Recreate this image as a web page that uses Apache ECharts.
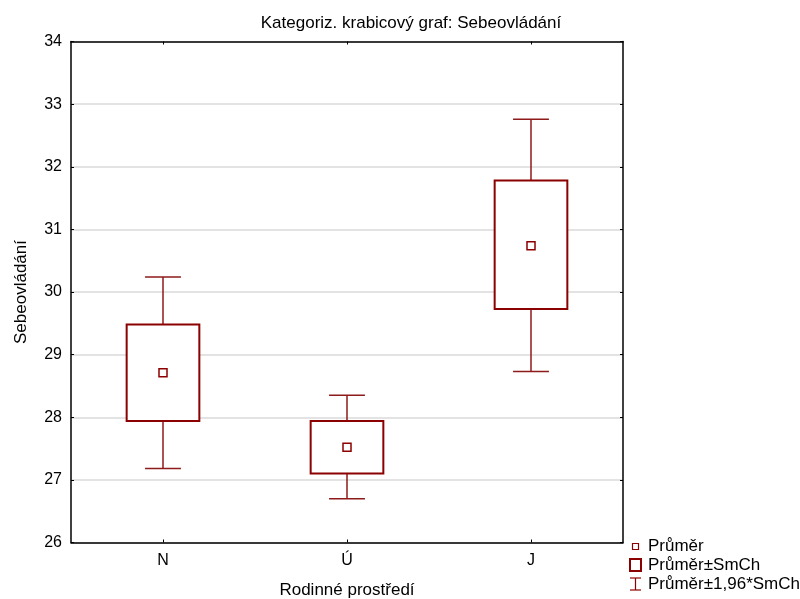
<!DOCTYPE html>
<html>
<head>
<meta charset="utf-8">
<script src="https://cdn.jsdelivr.net/npm/echarts@6/dist/echarts.min.js"></script>
<style>
  html, body { margin: 0; padding: 0; background: #fff; }
  #chart { width: 800px; height: 599px; }
</style>
</head>
<body>
<div id="chart"></div>
<script>
// Categorized box plot: mean, mean ± SE (box), mean ± 1.96*SE (whiskers)
const categories = ['N', 'Ú', 'J'];
const means   = [28.71, 27.52, 30.74];
const seLower = [27.94, 27.10, 29.73];
const seUpper = [29.48, 27.94, 31.78];
const ciLower = [27.18, 26.70, 28.73];
const ciUpper = [30.24, 28.35, 32.76];
const yTicks  = [26, 27, 28, 29, 30, 31, 32, 33, 34];

const legendNames = ['Průměr', 'Průměr±SmCh', 'Průměr±1,96*SmCh'];
const FONT = '"Liberation Sans", Arial, sans-serif';
const RED = '#8b0000';

const rows = categories.map((c, i) => [i, ciLower[i], seLower[i], means[i], seUpper[i], ciUpper[i]]);

function renderBox(params, api) {
  const i = api.value(0);
  const band = api.size([1, 0])[0];
  const boxW = band * 0.395;
  const capW = band * 0.195;
  const pLo = api.coord([i, api.value(1)]);
  const pSeLo = api.coord([i, api.value(2)]);
  const pMean = api.coord([i, api.value(3)]);
  const pSeHi = api.coord([i, api.value(4)]);
  const pHi = api.coord([i, api.value(5)]);
  const x = pMean[0];
  const whisk = { stroke: '#8e1a1a', lineWidth: 1.5 };
  return {
    type: 'group',
    children: [
      { type: 'line', shape: { x1: x, y1: pHi[1], x2: x, y2: pSeHi[1] }, style: whisk },
      { type: 'line', shape: { x1: x, y1: pSeLo[1], x2: x, y2: pLo[1] }, style: whisk },
      { type: 'line', shape: { x1: x - capW / 2, y1: pHi[1], x2: x + capW / 2, y2: pHi[1] }, style: whisk },
      { type: 'line', shape: { x1: x - capW / 2, y1: pLo[1], x2: x + capW / 2, y2: pLo[1] }, style: whisk },
      { type: 'rect', shape: { x: x - boxW / 2, y: pSeHi[1], width: boxW, height: pSeLo[1] - pSeHi[1] },
        style: { fill: '#fff', stroke: RED, lineWidth: 2 } },
      { type: 'rect', shape: { x: x - 4, y: pMean[1] - 4, width: 8, height: 8 },
        style: { fill: '#fff', stroke: RED, lineWidth: 1.5 } }
    ]
  };
}

// Legend drawn as graphic items at the lower right (group origin = icon's left, text middle)
function legendItem(y, icon, text) {
  return { type: 'group', x: 629, y: y, children: [
    icon,
    { type: 'text', x: 19, y: 0, style: { text: text, font: '17px ' + FONT, fill: '#000', textVerticalAlign: 'middle' } }
  ] };
}

const chart = echarts.init(document.getElementById('chart'), null, { renderer: 'canvas' });
const axisLine = { show: true, lineStyle: { color: '#000', width: 1.5 } };
chart.setOption({
  animation: false,
  backgroundColor: '#fff',
  title: {
    text: 'Kategoriz. krabicový graf: Sebeovládání',
    left: 406, textAlign: 'center', top: 10,
    textStyle: { fontFamily: FONT, fontSize: 17, fontWeight: 'normal', color: '#000' }
  },
  grid: { left: 71, right: 177, top: 41.5, bottom: 56.5, containLabel: false, outerBoundsMode: 'none' },
  xAxis: [
    {
      type: 'category', data: categories, position: 'bottom',
      name: 'Rodinné prostředí', nameLocation: 'middle', nameGap: 39,
      nameTextStyle: { fontFamily: FONT, fontSize: 17, color: '#000' },
      axisLine: axisLine,
      axisTick: { show: true, inside: true, length: 3, alignWithLabel: true, lineStyle: { color: '#000', width: 1 } },
      axisLabel: { fontFamily: FONT, fontSize: 16, color: '#000', margin: 10 },
      splitLine: { show: false }
    },
    {
      type: 'category', data: categories, position: 'top',
      axisLine: axisLine,
      axisTick: { show: true, inside: true, length: 3, alignWithLabel: true, lineStyle: { color: '#000', width: 1 } },
      axisLabel: { show: false }, splitLine: { show: false }
    }
  ],
  yAxis: [
    {
      type: 'value', min: yTicks[0], max: yTicks[yTicks.length - 1], interval: 1, position: 'left',
      name: 'Sebeovládání', nameLocation: 'middle', nameGap: 41,
      nameTextStyle: { fontFamily: FONT, fontSize: 17, color: '#000' },
      axisLine: axisLine,
      axisTick: { show: true, inside: true, length: 3, lineStyle: { color: '#000', width: 1 } },
      axisLabel: { fontFamily: FONT, fontSize: 16, color: '#000', margin: 9 },
      splitLine: { show: true, lineStyle: { color: '#dadada', width: 1.5 } }
    },
    {
      type: 'value', min: yTicks[0], max: yTicks[yTicks.length - 1], interval: 1, position: 'right',
      axisLine: axisLine,
      axisTick: { show: true, inside: true, length: 3, lineStyle: { color: '#000', width: 1 } },
      axisLabel: { show: false }, splitLine: { show: false }
    }
  ],
  series: [{
    type: 'custom', name: legendNames[1],
    renderItem: renderBox,
    encode: { x: 0, y: [1, 2, 3, 4, 5] },
    data: rows,
    z: 3
  }],
  graphic: [
    legendItem(546.5, { type: 'rect', shape: { x: 3.5, y: -3, width: 6, height: 6 }, style: { fill: '#fff', stroke: RED, lineWidth: 1.2 } }, legendNames[0]),
    legendItem(565, { type: 'rect', shape: { x: 1, y: -6, width: 11, height: 12 }, style: { fill: '#fff', stroke: RED, lineWidth: 2 } }, legendNames[1]),
    legendItem(584, { type: 'group', children: [
      { type: 'line', shape: { x1: 6.5, y1: -6, x2: 6.5, y2: 6 }, style: { stroke: RED, lineWidth: 1.2 } },
      { type: 'line', shape: { x1: 1, y1: -6, x2: 12, y2: -6 }, style: { stroke: RED, lineWidth: 1.2 } },
      { type: 'line', shape: { x1: 1, y1: 6, x2: 12, y2: 6 }, style: { stroke: RED, lineWidth: 1.2 } }
    ] }, legendNames[2])
  ]
});
</script>
</body>
</html>
